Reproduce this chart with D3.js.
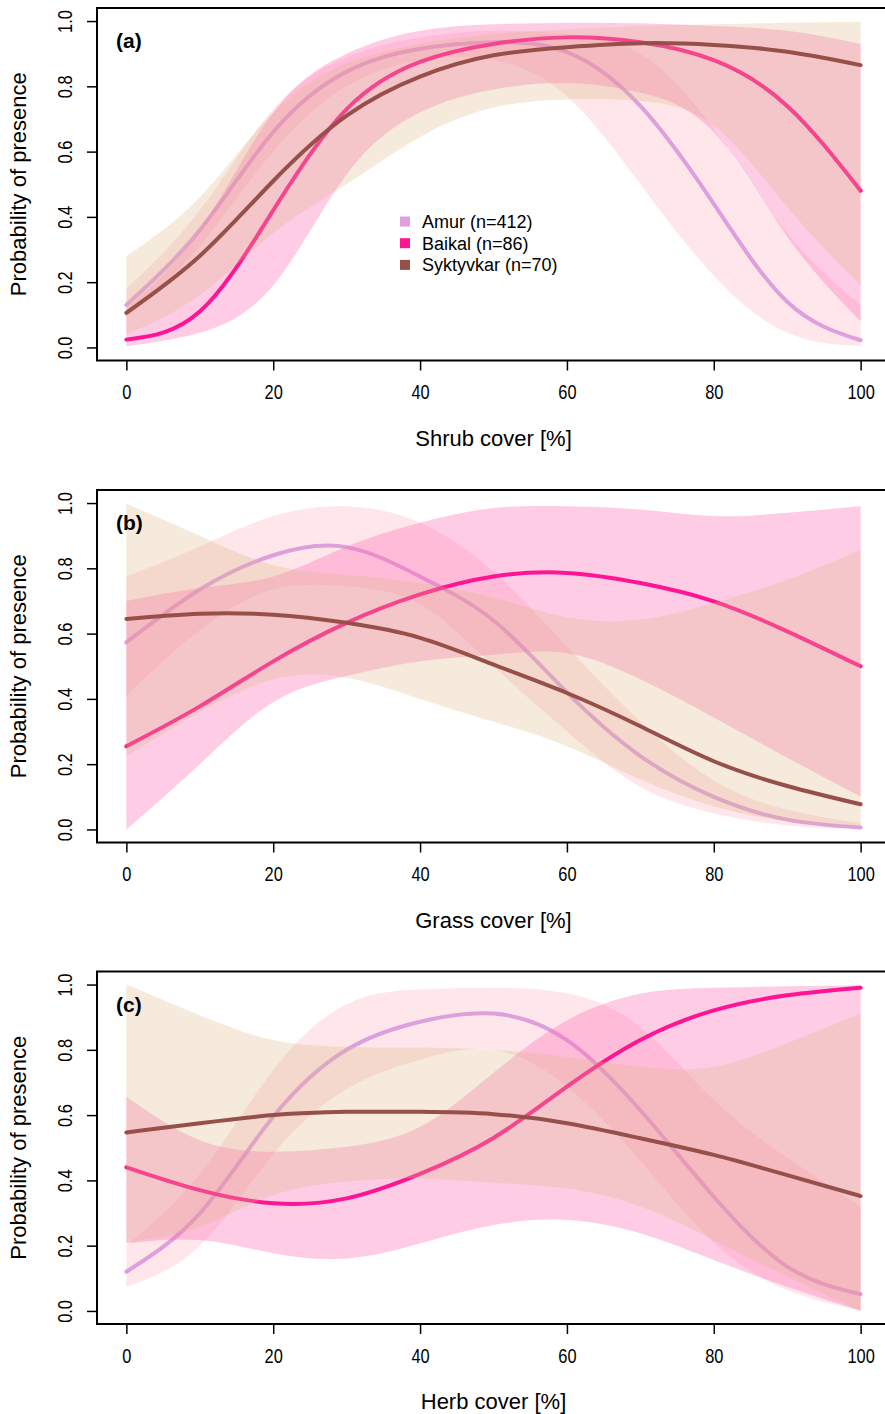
<!DOCTYPE html>
<html>
<head>
<meta charset="utf-8">
<script src="https://cdn.jsdelivr.net/npm/d3@7"></script>
<style>
  body { margin: 0; background: #fff; }
  text { font-family: "Liberation Sans", Arial, Helvetica, sans-serif; fill: #000; }
</style>
</head>
<body>
<div id="chart"></div>
<script>
// cover values at which the fitted curves were read
const coverX = [0, 10, 20, 30, 40, 50, 60, 70, 80, 90, 100];

// (a) shrub cover
const shrubAmur     = [0.13, 0.36, 0.66, 0.845, 0.915, 0.935, 0.905, 0.74, 0.44, 0.14, 0.022];
const shrubAmurLo   = [0.09, 0.31, 0.60, 0.80, 0.88, 0.88, 0.77, 0.50, 0.22, 0.045, 0.004];
const shrubAmurHi   = [0.18, 0.42, 0.73, 0.89, 0.95, 0.97, 0.96, 0.90, 0.67, 0.35, 0.13];
const shrubBaikal   = [0.024, 0.11, 0.42, 0.73, 0.875, 0.93, 0.95, 0.935, 0.88, 0.74, 0.48];
const shrubBaikalLo = [0.004, 0.045, 0.19, 0.53, 0.72, 0.79, 0.81, 0.78, 0.66, 0.34, 0.08];
const shrubBaikalHi = [0.12, 0.36, 0.72, 0.90, 0.97, 0.99, 0.995, 0.993, 0.985, 0.97, 0.93];
const shrubSyk      = [0.106, 0.28, 0.51, 0.71, 0.83, 0.895, 0.92, 0.932, 0.927, 0.906, 0.865];
const shrubSykLo    = [0.04, 0.16, 0.35, 0.50, 0.645, 0.735, 0.76, 0.755, 0.68, 0.43, 0.19];
const shrubSykHi    = [0.28, 0.46, 0.72, 0.87, 0.93, 0.96, 0.975, 0.985, 0.99, 0.995, 0.998];

// (b) grass cover
const grassAmur     = [0.573, 0.735, 0.84, 0.865, 0.775, 0.64, 0.42, 0.225, 0.10, 0.03, 0.006];
const grassAmurLo   = [0.41, 0.61, 0.735, 0.745, 0.69, 0.50, 0.30, 0.13, 0.05, 0.012, 0.002];
const grassAmurHi   = [0.775, 0.867, 0.96, 0.99, 0.94, 0.79, 0.56, 0.33, 0.15, 0.06, 0.02];
const grassBaikal   = [0.255, 0.377, 0.515, 0.633, 0.72, 0.775, 0.786, 0.755, 0.699, 0.607, 0.50];
const grassBaikalLo = [0.0, 0.2, 0.39, 0.47, 0.515, 0.535, 0.54, 0.46, 0.343, 0.22, 0.10];
const grassBaikalHi = [0.70, 0.74, 0.775, 0.867, 0.94, 0.985, 0.99, 0.98, 0.96, 0.97, 0.99];
const grassSyk      = [0.645, 0.661, 0.658, 0.633, 0.587, 0.505, 0.418, 0.316, 0.209, 0.133, 0.077];
const grassSykLo    = [0.224, 0.36, 0.46, 0.465, 0.40, 0.33, 0.255, 0.153, 0.071, 0.025, 0.01];
const grassSykHi    = [0.998, 0.90, 0.81, 0.78, 0.755, 0.71, 0.65, 0.643, 0.694, 0.765, 0.857];

// (c) herb cover
const herbAmur      = [0.12, 0.299, 0.595, 0.80, 0.886, 0.911, 0.83, 0.615, 0.35, 0.136, 0.051];
const herbAmurLo    = [0.074, 0.20, 0.48, 0.68, 0.77, 0.80, 0.687, 0.46, 0.21, 0.064, 0.002];
const herbAmurHi    = [0.20, 0.42, 0.738, 0.94, 0.985, 0.99, 0.973, 0.87, 0.646, 0.47, 0.32];
const herbBaikal    = [0.44, 0.37, 0.33, 0.345, 0.42, 0.53, 0.687, 0.83, 0.921, 0.967, 0.99];
const herbBaikalLo  = [0.207, 0.217, 0.177, 0.161, 0.207, 0.263, 0.279, 0.238, 0.156, 0.074, 0.0];
const herbBaikalHi  = [0.656, 0.523, 0.488, 0.503, 0.564, 0.73, 0.89, 0.972, 0.99, 0.995, 0.998];
const herbSyk       = [0.547, 0.575, 0.60, 0.61, 0.61, 0.603, 0.575, 0.529, 0.478, 0.416, 0.352];
const herbSykLo     = [0.21, 0.258, 0.355, 0.396, 0.406, 0.393, 0.375, 0.32, 0.217, 0.105, 0.0];
const herbSykHi     = [1.0, 0.906, 0.83, 0.809, 0.807, 0.80, 0.778, 0.748, 0.748, 0.82, 0.911];

const siteNames = ["Amur (n=412)", "Baikal (n=86)", "Syktyvkar (n=70)"];
const xTicks = [0, 20, 40, 60, 80, 100];
const yTicks = [0, 0.2, 0.4, 0.6, 0.8, 1.0];

const lineColors = ["#DDA0DD", "#FF1493", "#975049"];
const bandColors = ["rgba(255,192,203,0.4)", "rgba(255,105,180,0.34)", "rgba(222,184,135,0.3)"];

const panels = [
  {tag: "(a)", title: "Shrub cover [%]", top: 8,
   series: [[shrubAmur, shrubAmurLo, shrubAmurHi], [shrubBaikal, shrubBaikalLo, shrubBaikalHi], [shrubSyk, shrubSykLo, shrubSykHi]]},
  {tag: "(b)", title: "Grass cover [%]", top: 490,
   series: [[grassAmur, grassAmurLo, grassAmurHi], [grassBaikal, grassBaikalLo, grassBaikalHi], [grassSyk, grassSykLo, grassSykHi]]},
  {tag: "(c)", title: "Herb cover [%]", top: 971.5,
   series: [[herbAmur, herbAmurLo, herbAmurHi], [herbBaikal, herbBaikalLo, herbBaikalHi], [herbSyk, herbSykLo, herbSykHi]]}
];

const W = 885, H = 1414;
const boxLeft = 97, boxRight = 890, boxH = 352.5;

const svg = d3.select("#chart").append("svg")
  .attr("width", W).attr("height", H);

// R style: axes padded by 4% on each side
const x = d3.scaleLinear().domain([-4, 104]).range([boxLeft, boxRight]);
const smooth = d3.curveNatural;

panels.forEach(function (p) {
  const y = d3.scaleLinear().domain([-0.04, 1.04]).range([p.top + boxH, p.top]);
  const g = svg.append("g");

  const area = d3.area()
    .x(function (d) { return x(d[0]); })
    .y0(function (d) { return y(d[1]); })
    .y1(function (d) { return y(d[2]); })
    .curve(smooth);
  const line = d3.line()
    .x(function (d) { return x(d[0]); })
    .y(function (d) { return y(d[1]); })
    .curve(smooth);

  // band then line for each site, so later bands tint earlier lines
  p.series.forEach(function (s, i) {
    const pts = coverX.map(function (c, k) { return [c, s[1][k], s[2][k]]; });
    g.append("path").attr("d", area(pts))
      .attr("fill", bandColors[i]).attr("stroke", "none");
    const fit = coverX.map(function (c, k) { return [c, s[0][k]]; });
    g.append("path").attr("d", line(fit))
      .attr("fill", "none").attr("stroke", lineColors[i])
      .attr("stroke-width", 4).attr("stroke-linecap", "round");
  });

  // frame
  g.append("rect")
    .attr("x", boxLeft).attr("y", p.top)
    .attr("width", boxRight - boxLeft).attr("height", boxH)
    .attr("fill", "none").attr("stroke", "#000").attr("stroke-width", 2);

  // x axis
  const xa = g.append("g")
    .attr("transform", `translate(0,${p.top + boxH})`)
    .call(d3.axisBottom(x).tickValues(xTicks).tickSize(10).tickSizeOuter(0));
  xa.select(".domain").remove();
  xa.selectAll("line").attr("stroke-width", 1.5);
  xa.selectAll("text")
    .attr("y", 39).attr("dy", null)
    .attr("font-size", 20)
    .attr("transform", "scale(0.82,1)");

  // y axis
  const ya = g.append("g")
    .attr("transform", `translate(${boxLeft},0)`)
    .call(d3.axisLeft(y).tickValues(yTicks).tickFormat(d3.format(".1f")).tickSize(10).tickSizeOuter(0));
  ya.select(".domain").remove();
  ya.selectAll("line").attr("stroke-width", 1.5);
  ya.selectAll("text")
    .attr("x", null).attr("dy", null)
    .attr("text-anchor", "middle")
    .attr("font-size", 20)
    .attr("transform", "translate(-25,0) rotate(-90) scale(0.82,1)");

  // titles
  g.append("text")
    .attr("x", (x(0) + x(100)) / 2).attr("y", p.top + boxH + 85)
    .attr("text-anchor", "middle").attr("font-size", 22)
    .text(p.title);
  g.append("text")
    .attr("transform", `translate(26,${p.top + boxH / 2}) rotate(-90)`)
    .attr("text-anchor", "middle").attr("font-size", 22)
    .text("Probability of presence");
  g.append("text")
    .attr("x", 116).attr("y", p.top + 40)
    .attr("font-size", 21).attr("font-weight", "bold")
    .text(p.tag);
});

// legend in panel (a)
const leg = svg.append("g").attr("transform", "translate(400,221.5)");
siteNames.forEach(function (name, i) {
  const row = leg.append("g").attr("transform", `translate(0,${i * 21.7})`);
  row.append("rect").attr("x", 0).attr("y", -5).attr("width", 10).attr("height", 10)
    .attr("fill", lineColors[i]);
  row.append("text").attr("x", 22).attr("y", 6.5).attr("font-size", 18).text(name);
});
</script>
</body>
</html>
